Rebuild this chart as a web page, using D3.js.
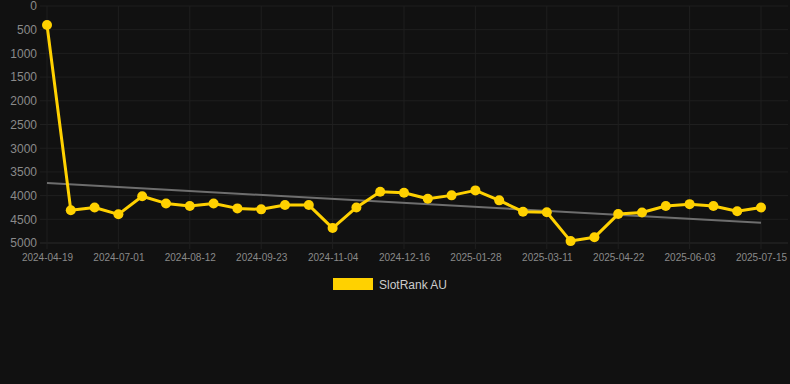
<!DOCTYPE html>
<html>
<head>
<meta charset="utf-8">
<script src="https://cdn.jsdelivr.net/npm/d3@7"></script>
<style>
  html, body { margin: 0; padding: 0; background: #111111; }
  svg { display: block; font-family: "Liberation Sans", Arial, sans-serif; }
</style>
</head>
<body>
<div id="chart"></div>
<script>
// dates of each sample (category axis, every 3rd one is labelled)
const dates = [
    '2024-04-19', '2024-06-03', '2024-06-17', '2024-07-01', '2024-07-15', '2024-07-29',
    '2024-08-12', '2024-08-26', '2024-09-09', '2024-09-23', '2024-10-07', '2024-10-21',
    '2024-11-04', '2024-11-18', '2024-12-02', '2024-12-16', '2024-12-30', '2025-01-14',
    '2025-01-28', '2025-02-11', '2025-02-25', '2025-03-11', '2025-03-25', '2025-04-08',
    '2025-04-22', '2025-05-06', '2025-05-20', '2025-06-03', '2025-06-17', '2025-07-01',
    '2025-07-15'
];
// rank values (lower is better, axis is reversed)
const ranks = [
    400, 4310, 4250, 4395, 4015, 4165, 4220, 4165, 4270, 4290, 4200, 4200,
    4685, 4250, 3920, 3940, 4065, 3995, 3890, 4100, 4340, 4350, 4960, 4880,
    4390, 4355, 4220, 4180, 4220, 4330, 4250
];
// trend line, first and last value
const trend = [3735, 4572];
const yTicks = [0, 500, 1000, 1500, 2000, 2500, 3000, 3500, 4000, 4500, 5000];
const seriesName = 'SlotRank AU';

const width = 790, height = 384;
const margin = [6, 141, 47, 29]; // top, bottom, left, right
const gold = '#ffd100';

const svg = d3.select('#chart').append('svg')
    .attr('width', width).attr('height', height);

svg.append('rect').attr('width', width).attr('height', height).attr('fill', '#111111');

let scaleX = d3.scalePoint(dates, [margin[2], width - margin[3]]);
let scaleY = d3.scaleLinear([0, 5000], [margin[0], height - margin[1]]);

// Grid :
const grid = svg.append('g');
grid.selectAll('line.h')
    .data(yTicks)
    .join('line')
    .attr('x1', 40).attr('x2', 788)
    .attr('y1', d => scaleY(d)).attr('y2', d => scaleY(d))
    .attr('stroke', d => d == 5000 ? '#2a2a2a' : '#1f1f1f').attr('stroke-width', 1);

const labelled = dates.filter((d, i) => i % 3 == 0);
grid.selectAll('line.v')
    .data(labelled)
    .join('line')
    .attr('x1', d => scaleX(d)).attr('x2', d => scaleX(d))
    .attr('y1', margin[0]).attr('y2', scaleY(5000) + 6)
    .attr('stroke', '#1f1f1f').attr('stroke-width', 1);

// Axes :
let axisY = svg.append('g')
    .attr('transform', `translate(37,0)`)
    .call(d3.axisLeft(scaleY).tickValues(yTicks).tickFormat(d3.format('d')).tickSize(0).tickPadding(0));
axisY.select('.domain').remove();
axisY.selectAll('text')
    .attr('fill', '#8a8a8a')
    .style('font-size', '12px');

let axisX = svg.append('g')
    .attr('transform', `translate(0,${scaleY(5000) + 6})`)
    .call(d3.axisBottom(scaleX).tickValues(labelled).tickSize(0).tickPadding(5));
axisX.select('.domain').remove();
axisX.selectAll('text')
    .attr('fill', '#8a8a8a')
    .style('font-size', '10px');

// Trend line :
svg.append('line')
    .attr('x1', scaleX(dates[0])).attr('y1', scaleY(trend[0]))
    .attr('x2', scaleX(dates[dates.length - 1])).attr('y2', scaleY(trend[1]))
    .attr('stroke', '#6e6e6e').attr('stroke-width', 2);

// Series line :
const pts = dates.map((d, i) => [d, ranks[i]]);
let lineGen = d3.line()
    .x(d => scaleX(d[0]))
    .y(d => scaleY(d[1]));
svg.append('path')
    .datum(pts)
    .attr('fill', 'none')
    .attr('stroke', gold)
    .attr('stroke-width', 3)
    .attr('stroke-linejoin', 'round')
    .attr('d', lineGen);

svg.append('g').selectAll('circle')
    .data(pts)
    .join('circle')
    .attr('cx', d => scaleX(d[0]))
    .attr('cy', d => scaleY(d[1]))
    .attr('r', 5)
    .attr('fill', gold);

// Legend :
const legend = svg.append('g').attr('transform', 'translate(333,278)');
legend.append('rect')
    .attr('width', 40).attr('height', 12)
    .attr('fill', gold);
legend.append('text')
    .attr('x', 46).attr('y', 10.5)
    .attr('fill', '#cccccc')
    .style('font-size', '12px')
    .text(seriesName);
</script>
</body>
</html>
